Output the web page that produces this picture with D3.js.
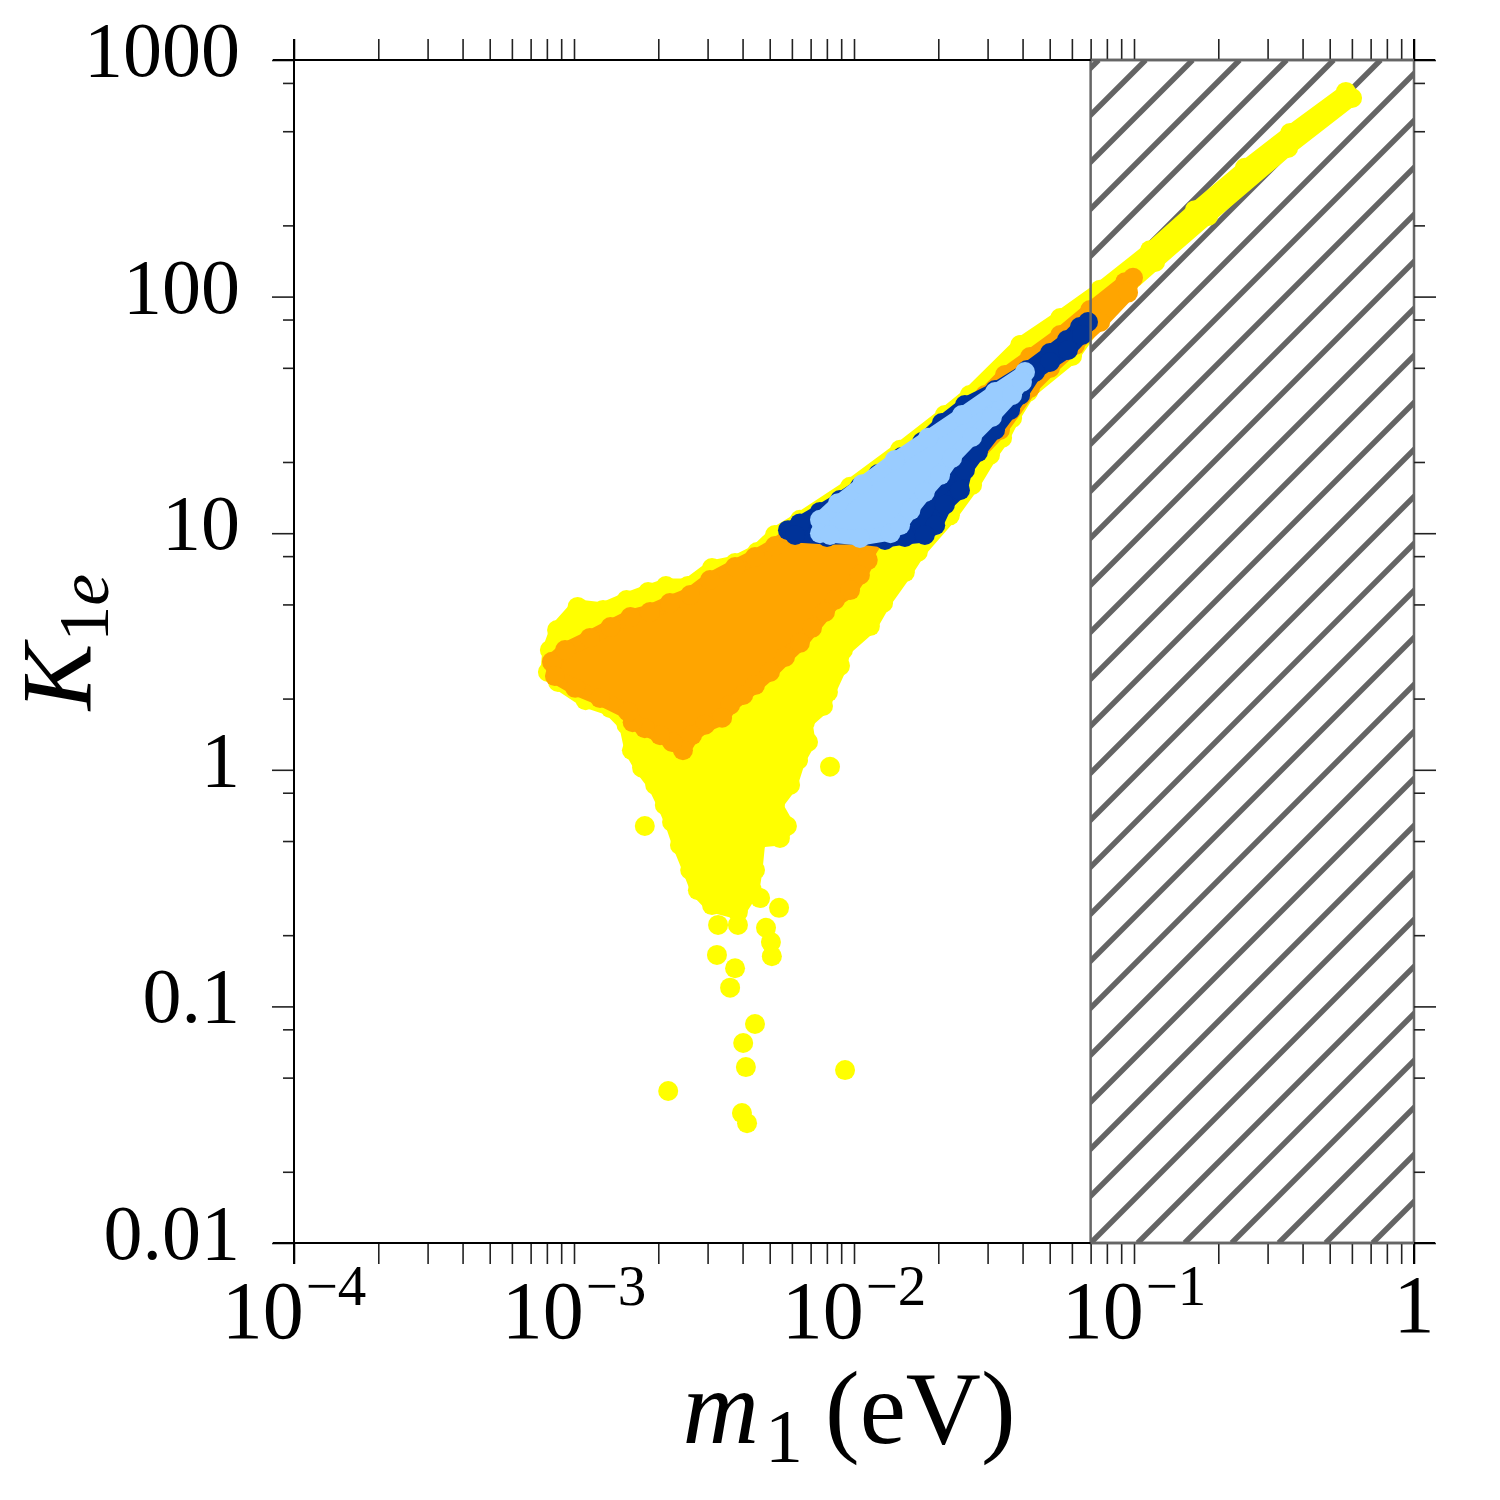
<!DOCTYPE html>
<html><head><meta charset="utf-8">
<script src="https://cdn.jsdelivr.net/npm/d3@7"></script>
<style>body{margin:0;background:#fff} svg{display:block}</style>
</head><body>
<svg id="chart" width="1500" height="1500"></svg>
<script>
// ---- axis ticks / labels ----
const xMajorTicks = [1e-4, 1e-3, 1e-2, 1e-1, 1];
const xMajorExp = ["\u22124", "\u22123", "\u22122", "\u22121", ""];
const xMinorMantissas = [2, 3, 4, 5, 6, 7, 8, 9];
const yMajorTicks = [0.01, 0.1, 1, 10, 100, 1000];
const yMajorLabels = ["0.01", "0.1", "1", "10", "100", "1000"];
const yMinorMantissas = [2, 5, 8];
const excludedM1 = 0.07;   // hatched region: m1 > 0.07 eV

// ---- data: [m1 (eV), K1e] ----
const yellowRegion = [
[0.571,733],[0.361,491],[0.249,350],[0.165,232],[0.114,157],[0.0757,107],[0.0545,81.2],[0.0392,62.4],
[0.0259,38.4],[0.0211,31.6],[0.0146,22.5],[0.00968,15.7],[0.00641,11.4],[0.00522,9.83],[0.00451,8.33],
[0.00376,7.48],[0.00311,7.13],[0.00255,5.98],[0.00213,5.98],[0.00184,5.64],[0.00154,5.22],[0.00127,4.74],
[0.00103,4.88],[0.00087,3.90],[0.00082,3.21],[0.000807,2.59],[0.000877,2.35],[0.0011,1.97],[0.00135,1.82],
[0.00154,1.55],[0.00161,1.21],[0.00175,1.02],[0.00195,0.863],[0.00211,0.710],[0.00224,0.602],[0.00239,0.481],
[0.0026,0.377],[0.00277,0.310],[0.00311,0.268],[0.00385,0.251],[0.00432,0.310],[0.00443,0.377],[0.00454,0.505],
[0.00544,0.515],[0.00576,0.579],[0.00522,0.710],[0.00591,0.863],[0.00631,1.10],[0.00685,1.31],[0.00668,1.59],
[0.00775,1.86],[0.00807,2.13],[0.00891,2.75],[0.00913,3.21],[0.0114,4.05],[0.0127,5.07],[0.0152,6.85],
[0.0169,8.33],[0.022,11.9],[0.0264,16.0],[0.0306,21.4],[0.0338,25.3],[0.0367,30.7],[0.0418,39.5],
[0.0601,56.1],[0.0821,94.9],[0.119,140],[0.184,219],[0.355,425],[0.601,691]
];
const yellowPoints = [
[0.00821,1.03],[0.00179,0.579],[0.0054,0.261],[0.00485,0.215],[0.00505,0.187],[0.00509,0.163],
[0.00324,0.165],[0.00376,0.145],[0.00361,0.120],[0.00443,0.0843],[0.00402,0.070],[0.00411,0.0554],
[0.00398,0.0354],[0.00415,0.0321],[0.00217,0.0439],[0.00929,0.0538],[0.00385,0.221],[0.00327,0.221],
[0.00462,0.287]
];
const orangeRegion = [
[0.000834,2.86],[0.000929,3.21],[0.00114,3.61],[0.00135,4.01],[0.00159,4.42],[0.00187,4.65],[0.0022,5.07],
[0.0026,5.48],[0.00306,6.34],[0.00376,7.20],[0.00443,7.93],[0.00522,8.83],[0.00591,9.83],[0.00821,11.9],
[0.0124,16.5],[0.0187,23.1],[0.0294,38.4],[0.0346,46.6],[0.0425,55.5],[0.0545,68.8],[0.0697,87.8],
[0.0929,115],[0.0992,120],[0.0952,104],[0.0757,78.1],[0.0616,62.4],[0.0501,49.9],[0.0425,41.1],
[0.0332,27.3],[0.0165,11.4],[0.0114,8.91],[0.0112,7.70],[0.0105,6.66],[0.00968,5.75],[0.00855,5.22],
[0.00788,4.65],[0.00708,3.98],[0.00641,3.44],[0.00567,3.0],[0.00501,2.59],[0.00443,2.28],[0.00402,2.07],
[0.00361,1.88],[0.00338,1.66],[0.00294,1.55],[0.00264,1.40],[0.00245,1.21],[0.00224,1.31],[0.00203,1.40],
[0.00179,1.50],[0.00162,1.59],[0.00156,1.76],[0.00124,2.01],[0.00101,2.22],[0.000855,2.49]
];
const darkBlueRegion = [
[0.00581,10.3],[0.00641,11.0],[0.00756,12.3],[0.00891,13.8],[0.0105,15.7],[0.0122,17.8],[0.0148,21.0],
[0.0175,24.3],[0.0206,29.2],[0.0249,34.8],[0.0319,40.3],[0.0415,48.9],[0.0501,57.7],[0.0576,65.5],
[0.0641,74.4],[0.0685,78.1],[0.0652,68.8],[0.0581,59.5],[0.0501,52.9],[0.0443,48.0],[0.0392,38.4],
[0.0361,33.2],[0.0319,27.3],[0.0277,22.0],[0.0249,18.5],[0.0239,15.2],[0.0211,13.2],[0.0195,10.8],
[0.0179,9.83],[0.0152,9.64],[0.0129,9.36],[0.0105,9.64],[0.00801,9.64],[0.00616,9.83]
];
const lightBlueRegion = [
[0.0408,48.0],[0.0319,39.5],[0.0243,31.6],[0.0184,25.3],[0.014,20.4],[0.0107,16.1],[0.00877,13.4],
[0.00756,11.4],[0.00756,10.0],[0.00821,9.83],[0.0105,9.54],[0.0135,10.0],[0.0146,10.8],[0.0159,12.5],
[0.0179,14.9],[0.0203,17.6],[0.0224,20.8],[0.0264,25.5],[0.0311,31.0],[0.0367,38.4],[0.0398,43.6]
];

const COLORS = {yellow: "#ffff00", orange: "#ffa500", dark: "#003399", light: "#99ccff"};
const FONT = "'Liberation Serif', 'Times New Roman', serif";

const svg = d3.select("#chart");
const x = d3.scaleLog().domain([1e-4, 1]).range([294, 1414]);
const y = d3.scaleLog().domain([0.01, 1000]).range([1243, 60]);
const X0 = x.range()[0], X1 = x.range()[1], Y0 = y.range()[1], Y1 = y.range()[0];
const TK = 21;

// ---- hatched excluded region ----
const hx0 = x(excludedM1);
svg.append("clipPath").attr("id", "hclip").append("rect")
  .attr("x", hx0).attr("y", Y0).attr("width", X1 - hx0).attr("height", Y1 - Y0);
const hg = svg.append("g").attr("clip-path", "url(#hclip)");
const H = Y1 - Y0, step = 47;
d3.range(-Math.ceil(H / step) - 1, Math.ceil((X1 - hx0) / step) + 1).forEach(k => {
  const bx = hx0 + step * k;
  hg.append("line").attr("x1", bx).attr("y1", Y1).attr("x2", bx + H).attr("y2", Y1 - H)
    .attr("stroke", "#646464").attr("stroke-width", 5.5);
});

// ---- scatter regions ----
const areaLine = d3.line().x(d => x(d[0])).y(d => y(d[1])).curve(d3.curveLinearClosed);
function drawRegion(data, color) {
  const g = svg.append("g");
  g.append("path").attr("d", areaLine(data)).attr("fill", color).attr("stroke", color)
    .attr("stroke-width", 15).attr("stroke-linejoin", "round");
  g.selectAll("circle").data(data).join("circle")
    .attr("cx", d => x(d[0])).attr("cy", d => y(d[1])).attr("r", 10).attr("fill", color);
}
function drawPoints(data, color) {
  svg.append("g").selectAll("circle").data(data).join("circle")
    .attr("cx", d => x(d[0])).attr("cy", d => y(d[1])).attr("r", 10).attr("fill", color);
}
drawRegion(yellowRegion, COLORS.yellow);
drawPoints(yellowPoints, COLORS.yellow);
drawRegion(orangeRegion, COLORS.orange);
drawRegion(darkBlueRegion, COLORS.dark);
drawRegion(lightBlueRegion, COLORS.light);

// hatch border
svg.append("rect").attr("x", hx0).attr("y", Y0).attr("width", X1 - hx0).attr("height", Y1 - Y0)
  .attr("fill", "none").attr("stroke", "#666").attr("stroke-width", 2.5);

// ---- axes ----
const xTicksAll = xMajorTicks.slice();
xMajorTicks.slice(0, -1).forEach(d => xMinorMantissas.forEach(m => xTicksAll.push(d * m)));
const yMinorAll = [];
yMajorTicks.slice(0, -1).forEach(d => yMinorMantissas.forEach(m => yMinorAll.push(d * m)));

function styleAxis(g) {
  g.select(".domain").remove();
  g.selectAll("line").attr("stroke", "#222").attr("stroke-width", 1.6);
}
svg.append("g").attr("transform", `translate(0,${Y1})`)
  .call(d3.axisBottom(x).tickValues(xTicksAll).tickSize(TK).tickSizeOuter(0).tickFormat(""))
  .call(styleAxis);
svg.append("g").attr("transform", `translate(0,${Y0})`)
  .call(d3.axisTop(x).tickValues(xTicksAll).tickSize(TK).tickSizeOuter(0).tickFormat(""))
  .call(styleAxis);
[[d3.axisLeft, X0], [d3.axisRight, X1]].forEach(([ax, px]) => {
  svg.append("g").attr("transform", `translate(${px},0)`)
    .call(ax(y).tickValues(yMajorTicks).tickSize(22).tickSizeOuter(0).tickFormat("")).call(styleAxis);
  svg.append("g").attr("transform", `translate(${px},0)`)
    .call(ax(y).tickValues(yMinorAll).tickSize(11).tickSizeOuter(0).tickFormat("")).call(styleAxis);
});

// frame lines (extended by tick length)
const frame = svg.append("g").attr("stroke", "#000").attr("stroke-width", 2);
frame.append("line").attr("x1", X0 - TK).attr("x2", X1 + TK).attr("y1", Y0).attr("y2", Y0);
frame.append("line").attr("x1", X0 - TK).attr("x2", hx0).attr("y1", Y1).attr("y2", Y1);
frame.append("line").attr("x1", X1).attr("x2", X1 + TK).attr("y1", Y1).attr("y2", Y1);
frame.append("line").attr("x1", X0).attr("x2", X0).attr("y1", Y0 - TK).attr("y2", Y1 + TK);
frame.append("line").attr("x1", X1).attr("x2", X1).attr("y1", Y0 - TK).attr("y2", Y0);
frame.append("line").attr("x1", X1).attr("x2", X1).attr("y1", Y1).attr("y2", Y1 + TK);
frame.append("line").attr("x1", hx0).attr("x2", X1).attr("y1", Y0).attr("y2", Y0).attr("stroke", "#666").attr("stroke-width", 2.5);
frame.append("line").attr("x1", hx0).attr("x2", X1).attr("y1", Y1).attr("y2", Y1).attr("stroke", "#666").attr("stroke-width", 2.5);

// y tick labels
svg.append("g").selectAll("text").data(yMajorTicks).join("text")
  .attr("x", 240).attr("y", d => y(d) + 16).attr("text-anchor", "end")
  .attr("font-family", FONT).attr("font-size", 78).attr("fill", "#000")
  .text((d, i) => yMajorLabels[i]);

// x tick labels
xMajorTicks.forEach((d, i) => {
  const t = svg.append("text").attr("x", x(d)).attr("text-anchor", "middle")
    .attr("font-family", FONT).attr("fill", "#000");
  if (xMajorExp[i] === "") {
    t.attr("y", 1332).attr("font-size", 82).text("1");
  } else {
    t.attr("y", 1338);
    t.append("tspan").attr("font-size", 82).text("10");
    t.append("tspan").attr("font-size", 57).attr("dy", -33).attr("dx", 2).text(xMajorExp[i]);
  }
});

// axis titles
const xt = svg.append("text").attr("x", 849).attr("y", 1443).attr("text-anchor", "middle")
  .attr("font-family", FONT).attr("fill", "#000");
xt.append("tspan").attr("font-size", 106).attr("font-style", "italic").text("m");
xt.append("tspan").attr("font-size", 76).attr("dy", 19).attr("dx", 6).text("1");
xt.append("tspan").attr("font-size", 104).attr("dy", -19).attr("dx", 22).text("(eV)");

const yt = svg.append("text").attr("transform", "translate(90,642) rotate(-90)")
  .attr("text-anchor", "middle").attr("font-family", FONT).attr("fill", "#000");
yt.append("tspan").attr("font-size", 100).attr("font-style", "italic").text("K");
yt.append("tspan").attr("font-size", 72).attr("dy", 18).attr("dx", 2).text("1");
yt.append("tspan").attr("font-size", 72).attr("font-style", "italic").text("e");
</script>
</body></html>
